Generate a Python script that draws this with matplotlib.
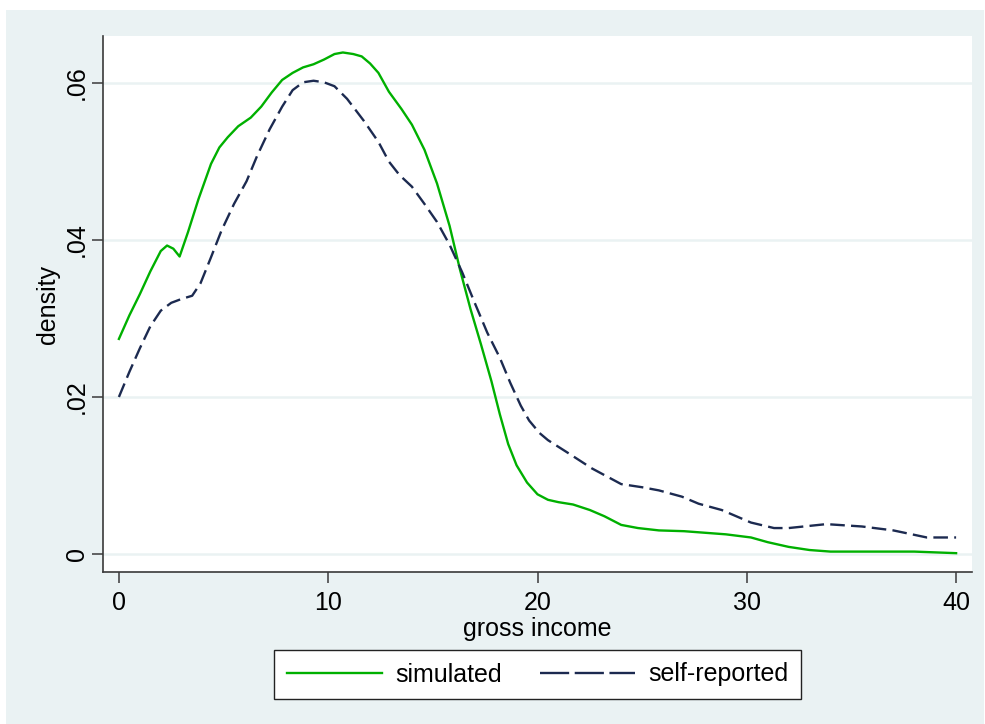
import matplotlib.pyplot as plt
from matplotlib.lines import Line2D
from matplotlib.patches import Rectangle

plt.rcParams['font.family'] = ['Liberation Sans', 'DejaVu Sans']
plt.rcParams['lines.scale_dashes'] = False

# simulated gross income density
x_sim = [0.0, 0.5, 1.0, 1.5, 2.0, 2.3, 2.6, 2.9, 3.3, 3.8, 4.4, 4.8, 5.2, 5.7, 6.3,
         6.8, 7.3, 7.8, 8.3, 8.8, 9.3, 9.8, 10.3, 10.7, 11.2, 11.6, 12.0, 12.4,
         12.9, 13.5, 14.0, 14.6, 15.2, 15.8, 16.3, 16.8, 17.3, 17.8, 18.2, 18.6,
         19.0, 19.5, 20.0, 20.5, 21.0, 21.7, 22.5, 23.2, 24.0, 24.8, 25.8, 27.0,
         28.0, 29.0, 30.2, 31.0, 32.0, 33.0, 34.0, 36.0, 38.0, 39.0, 40.0]
y_sim = [0.0274, 0.0304, 0.0331, 0.0360, 0.0386, 0.0393, 0.0389, 0.0379, 0.0410,
         0.0452, 0.0497, 0.0518, 0.0531, 0.0545, 0.0556, 0.0570, 0.0588, 0.0604,
         0.0613, 0.0620, 0.0624, 0.0630, 0.0637, 0.0639, 0.0637, 0.0634, 0.0625,
         0.0613, 0.0589, 0.0567, 0.0547, 0.0515, 0.0472, 0.0418, 0.0362, 0.0312,
         0.0267, 0.0220, 0.0178, 0.0140, 0.0113, 0.0091, 0.0076, 0.0069, 0.0066,
         0.0063, 0.0056, 0.0048, 0.0037, 0.0033, 0.0030, 0.0029, 0.0027, 0.0025,
         0.0021, 0.0015, 0.0009, 0.0005, 0.0003, 0.0003, 0.0003, 0.0002, 0.0001]

# self-reported gross income density
x_rep = [0.0, 0.5, 1.0, 1.5, 2.0, 2.5, 3.0, 3.5, 3.9, 4.4, 4.9, 5.5, 6.1, 6.6, 7.2,
         7.8, 8.3, 8.8, 9.3, 9.8, 10.3, 10.9, 11.7, 12.4, 12.9, 13.4, 14.0, 14.6,
         15.2, 15.8, 16.4, 17.0, 17.6, 18.2, 18.7, 19.2, 19.6, 20.1, 20.5, 21.5,
         22.6, 24.0, 25.0, 25.8, 26.9, 27.7, 28.8, 30.2, 31.3, 32.0, 33.8, 35.5,
         37.0, 38.6, 40.0]
y_rep = [0.0200, 0.0232, 0.0262, 0.0290, 0.0310, 0.0320, 0.0325, 0.0329, 0.0345,
         0.0378, 0.0412, 0.0446, 0.0475, 0.0507, 0.0541, 0.0570, 0.0591, 0.0601,
         0.0603, 0.0601, 0.0596, 0.0580, 0.0552, 0.0525, 0.0500, 0.0483, 0.0468,
         0.0446, 0.0423, 0.0394, 0.0359, 0.0320, 0.0282, 0.0250, 0.0218, 0.0189,
         0.0170, 0.0154, 0.0145, 0.0128, 0.0109, 0.0089, 0.0085, 0.0081, 0.0073,
         0.0064, 0.0056, 0.0040, 0.0033, 0.0033, 0.0038, 0.0035, 0.0030, 0.0021,
         0.0021]

x_ticks = [0, 10, 20, 30, 40]
y_ticks = [0, 0.02, 0.04, 0.06]
y_labels = ['0', '.02', '.04', '.06']

green = '#00B000'
navy = '#1C2A50'
bg = '#EAF2F3'
W, H = 985, 724
fs = 18

fig = plt.figure(figsize=(W / 100, H / 100), dpi=100)
fig.patch.set_facecolor('white')
fig.patches.append(Rectangle((6 / W, 0), (984 - 6) / W, (H - 10) / H,
                             transform=fig.transFigure, facecolor=bg,
                             edgecolor='none', zorder=-10))

ax = fig.add_axes([103 / W, 1 - 572 / H, (972 - 103) / W, (572 - 36) / H])
ax.set_facecolor('white')

ax.plot(x_sim, y_sim, color=green, lw=1.7, zorder=3)
ax.plot(x_rep, y_rep, color=navy, lw=1.7, dashes=(10.5, 4.5), zorder=3)

ax.set_xlim(-0.76, 40.76)
ax.set_ylim(-0.0023, 0.066)
ax.set_xticks(x_ticks)
ax.set_yticks(y_ticks)
ax.set_yticklabels(y_labels, rotation=90, va='center')
ax.grid(axis='y', color=bg, lw=1.8, zorder=0)

for s in ['top', 'right']:
    ax.spines[s].set_visible(False)
for s in ['left', 'bottom']:
    ax.spines[s].set_color('#3a3a3a')
    ax.spines[s].set_linewidth(1.2)
ax.tick_params(axis='both', labelsize=fs, color='#3a3a3a', width=1.1,
               length=8, direction='out')
ax.tick_params(axis='y', pad=2)
ax.tick_params(axis='x', pad=6)

ax.set_xlabel('gross income', fontsize=fs, labelpad=1)
ax.set_ylabel('density', fontsize=fs, labelpad=4)

handles = [Line2D([], [], color=green, lw=1.7),
           Line2D([], [], color=navy, lw=1.7, dashes=(21, 4))]
leg = fig.legend(handles, ['simulated', 'self-reported'], ncol=2,
                 loc='center', bbox_to_anchor=(537.5 / W, 1 - 674.5 / H),
                 fontsize=fs, frameon=True, fancybox=False, edgecolor='#222222',
                 framealpha=1, handlelength=3.8, columnspacing=1.5,
                 handletextpad=0.55, borderpad=0.5, borderaxespad=0)
leg.get_frame().set_linewidth(1.0)

fig.savefig('out.png', dpi=100, facecolor=fig.get_facecolor())
